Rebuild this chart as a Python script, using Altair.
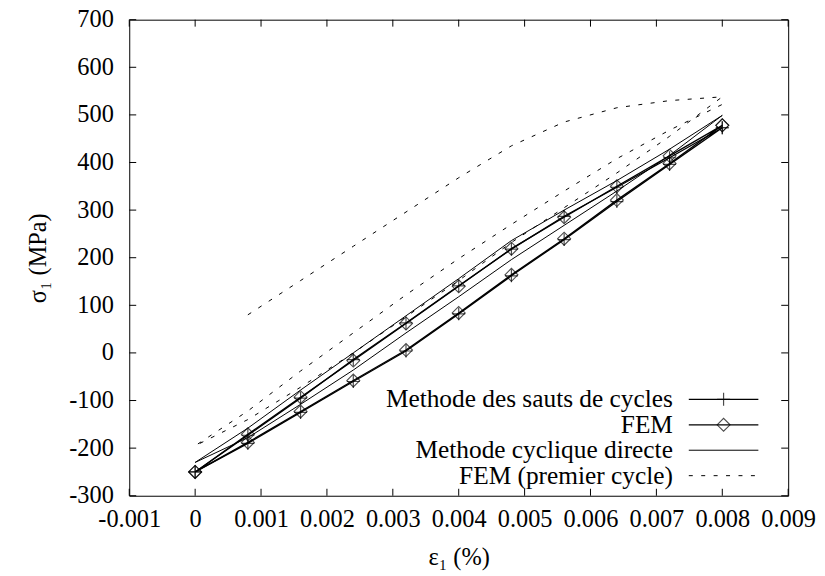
import json
import altair as alt
import pandas as pd

# ---------------- data ----------------
eps = [0.0, 0.0008, 0.0016, 0.0024, 0.0032, 0.0040, 0.0048, 0.0056, 0.0064, 0.0072, 0.0080]

fem_upper = [-250, -171, -93, -16, 62, 140, 219, 285, 350, 414, 478]
fem_lower = [-250, -188, -123, -58, 6, 84, 164, 240, 321, 398, 478]

sauts_upper = [-250, -173, -95, -14, 63, 141, 218, 287, 348, 410, 473]
sauts_lower = [-250, -190, -125, -60, 4, 82, 162, 238, 318, 396, 473]

direct_upper = [-230, -158, -78, 0, 78, 156, 236, 300, 362, 428, 499]
direct_lower = [-230, -178, -108, -36, 42, 118, 196, 268, 340, 415, 499]

# FEM first cycle: initial loading (from eps[1]), unloading, reloading
premier_load = [80, 152, 224, 296, 368, 435, 485, 515, 530, 538]
premier_unload = [-195, -140, -72, 0, 76, 152, 232, 305, 378, 455, 538]
premier_reload = [-195, -122, -38, 42, 122, 198, 270, 340, 408, 468, 522]

x_ticks = [-0.001, 0.0, 0.001, 0.002, 0.003, 0.004, 0.005, 0.006, 0.007, 0.008, 0.009]
x_tick_labels = ["-0.001", "0", "0.001", "0.002", "0.003", "0.004", "0.005",
                 "0.006", "0.007", "0.008", "0.009"]
y_ticks = [-300, -200, -100, 0, 100, 200, 300, 400, 500, 600, 700]
y_tick_labels = ["-300", "-200", "-100", "0", "100", "200", "300", "400", "500", "600", "700"]

legend_labels = ["Methode des sauts de cycles", "FEM", "Methode cyclique directe",
                 "FEM (premier cycle)"]

# ---------------- build tables ----------------
def loop(up, low):
    xs = eps + eps[::-1][1:]
    ys = up + low[::-1][1:]
    return pd.DataFrame({"eps": xs, "sigma": ys, "i": list(range(len(xs)))})

fem_df = loop(fem_upper, fem_lower)
sauts_df = loop(sauts_upper, sauts_lower)
direct_df = loop(direct_upper, direct_lower)

p_x = eps[1:] + eps[::-1][1:] + eps[1:]
p_y = premier_load + premier_unload[::-1][1:] + premier_reload[1:]
premier_df = pd.DataFrame({"eps": p_x, "sigma": p_y, "i": list(range(len(p_x)))})

fem_pts = pd.DataFrame({"eps": eps + eps, "sigma": fem_upper + fem_lower})
sauts_pts = pd.DataFrame({"eps": eps + eps, "sigma": sauts_upper + sauts_lower})

W, H = 663, 479
FONT = "Liberation Serif"
DASH = [4, 8.5]
PLUS = "M-1,0L1,0M0,-1L0,1"

xscale = alt.Scale(domain=[-0.001, 0.009], nice=False, zero=False)
yscale = alt.Scale(domain=[-300, 700], nice=False, zero=False)

x_label_expr = f"{json.dumps(x_tick_labels)}[round((datum.value + 0.001) * 1000)]"
y_label_expr = f"{json.dumps(y_tick_labels)}[round((datum.value + 300) / 100)]"

X = alt.X("eps:Q", scale=xscale,
          axis=alt.Axis(values=x_ticks, labelExpr=x_label_expr, title="ε₁ (%)",
                        labelFlush=False, labelOverlap=False, labelPadding=12,
                        titlePadding=15))
Y = alt.Y("sigma:Q", scale=yscale,
          axis=alt.Axis(values=y_ticks, labelExpr=y_label_expr, title="σ₁ (MPa)",
                        labelOverlap=False, labelPadding=16, titlePadding=18))

# inward ticks on all four sides (same field names / axis defs as the data layers)
xt = pd.DataFrame({"eps": x_ticks})
yt = pd.DataFrame({"sigma": y_ticks})
tick_layers = [
    alt.Chart(xt).mark_rule(color="black").encode(x=X, y=alt.value(H), y2=alt.value(H - 7)),
    alt.Chart(xt).mark_rule(color="black").encode(x=X, y=alt.value(0), y2=alt.value(7)),
    alt.Chart(yt).mark_rule(color="black").encode(y=Y, x=alt.value(0), x2=alt.value(7)),
    alt.Chart(yt).mark_rule(color="black").encode(y=Y, x=alt.value(W), x2=alt.value(W - 7)),
]

premier = alt.Chart(premier_df).mark_line(color="black", strokeWidth=1, strokeDash=DASH).encode(
    x=X, y=Y, order="i:Q")
direct = alt.Chart(direct_df).mark_line(color="black", strokeWidth=1).encode(
    x=X, y=Y, order="i:Q")
sauts_line = alt.Chart(sauts_df).mark_line(color="black", strokeWidth=1.3).encode(
    x=X, y=Y, order="i:Q")
sauts_mark = alt.Chart(sauts_pts).mark_point(shape=PLUS, size=170, color="black",
                                             strokeWidth=1.2, filled=False).encode(x=X, y=Y)
fem_line = alt.Chart(fem_df).mark_line(color="black", strokeWidth=1.3).encode(
    x=X, y=Y, order="i:Q")
fem_mark = alt.Chart(fem_pts).mark_point(shape="diamond", size=170, color="black",
                                         strokeWidth=1.1, filled=False).encode(x=X, y=Y)

# manual gnuplot-style legend (text, then sample)
legend_layers = []
row0, row_step = 382, 25.6
txt_right, s_x1, s_x2 = 547, 563, 633
for k, lab in enumerate(legend_labels):
    ry = row0 + k * row_step
    src = alt.Chart(pd.DataFrame({"label": [lab]}))
    legend_layers.append(
        src.mark_text(font=FONT, fontSize=25.5, align="right", baseline="middle", color="black")
        .encode(text="label:N", x=alt.value(txt_right), y=alt.value(ry)))
    rule_kw = dict(color="black", strokeWidth=1.3 if k < 2 else 1)
    if k == 3:
        rule_kw["strokeDash"] = DASH
    legend_layers.append(
        src.mark_rule(**rule_kw).encode(x=alt.value(s_x1), x2=alt.value(s_x2), y=alt.value(ry)))
    if k == 0:
        legend_layers.append(src.mark_point(shape=PLUS, size=170, color="black", strokeWidth=1.2)
                             .encode(x=alt.value((s_x1 + s_x2) / 2), y=alt.value(ry)))
    if k == 1:
        legend_layers.append(src.mark_point(shape="diamond", size=170, color="black",
                                            strokeWidth=1.1, filled=False)
                             .encode(x=alt.value((s_x1 + s_x2) / 2), y=alt.value(ry)))

chart = alt.layer(
    premier, direct, sauts_line, sauts_mark, fem_line, fem_mark, *tick_layers, *legend_layers
).properties(
    width=W, height=H,
    autosize=alt.AutoSizeParams(type="none"),
    padding={"left": 122, "top": 10, "right": 29, "bottom": 78},
    background="white",
).configure_view(
    stroke="black", strokeWidth=1
).configure_axis(
    labelFont=FONT, labelFontSize=24.5, labelColor="black",
    titleFont=FONT, titleFontSize=24.5, titleFontWeight="normal", titleColor="black",
    grid=False, ticks=False, tickSize=0, domain=False,
)

chart.save("out.html", embed_options={"renderer": "svg", "actions": False})
